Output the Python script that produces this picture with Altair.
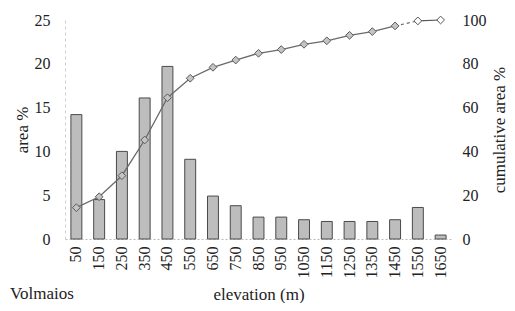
import altair as alt
import pandas as pd

elevations = [50, 150, 250, 350, 450, 550, 650, 750, 850, 950, 1050, 1150, 1250, 1350, 1450, 1550, 1650]
area_pct = [14.2, 4.5, 10.0, 16.1, 19.7, 9.1, 4.9, 3.8, 2.5, 2.5, 2.2, 2.0, 2.0, 2.0, 2.2, 3.6, 0.45]
cumulative_pct = [14.3, 19.3, 28.9, 45.2, 64.5, 73.4, 78.4, 81.7, 84.8, 86.5, 88.9, 90.5, 93.0, 94.7, 97.3, 99.6, 100.0]

df = pd.DataFrame({
    "elevation": elevations,
    "area": area_pct,
    "cumulative": cumulative_pct,
})
df["label"] = df["elevation"].astype(str)
order = [str(e) for e in elevations]

FONT = "Liberation Serif, DejaVu Serif, serif"
TXT = "#222222"

x_axis = alt.Axis(
    title="elevation (m)",
    labelAngle=-90,
    labelAlign="right",
    labelBaseline="middle",
    labelPadding=7,
    domainColor="#bbbbbb",
    domainDash=[2, 2],
    titleY=55,
    titleBaseline="middle",
)

x_enc = alt.X(
    "label:N",
    sort=order,
    scale=alt.Scale(paddingInner=0.52, paddingOuter=0.26),
    axis=x_axis,
)

bars = alt.Chart(df).mark_bar(
    fill="#bdbdbd", stroke="#4a4a4a", strokeWidth=1
).encode(
    x=x_enc,
    y=alt.Y(
        "area:Q",
        scale=alt.Scale(domain=[0, 25]),
        axis=alt.Axis(
            title="area %",
            values=[0, 5, 10, 15, 20, 25],
            labelPadding=15,
            domainColor="#d0d0d0",
            domainDash=[3, 3],
            titleX=-43,
            titleY=109.5,
        ),
    ),
)

y_right = alt.Y(
    "cumulative:Q",
    scale=alt.Scale(domain=[0, 100]),
    axis=alt.Axis(
        orient="right",
        title="cumulative area %",
        values=[0, 20, 40, 60, 80, 100],
        domain=False,
        labelPadding=10,
        titleX=47,
        titleY=109.5,
    ),
)

line_main = alt.Chart(df).transform_filter(alt.datum.elevation <= 1450).mark_line(
    color="#6a6a6a", strokeWidth=1.3
).encode(x=x_enc, y=y_right)

line_dash = alt.Chart(df).transform_filter(
    (alt.datum.elevation >= 1450) & (alt.datum.elevation <= 1550)
).mark_line(color="#6a6a6a", strokeWidth=1.2, strokeDash=[3, 3]).encode(x=x_enc, y=y_right)

line_end = alt.Chart(df).transform_filter(alt.datum.elevation >= 1550).mark_line(
    color="#555555", strokeWidth=1.2
).encode(x=x_enc, y=y_right)

pts_gray = alt.Chart(df).transform_filter(alt.datum.elevation <= 1450).mark_point(
    shape="diamond", size=60, filled=True, fill="#c4c4c4", stroke="#5a5a5a", strokeWidth=1, opacity=1
).encode(x=x_enc, y=y_right)

pts_white = alt.Chart(df).transform_filter(alt.datum.elevation >= 1550).mark_point(
    shape="diamond", size=60, filled=True, fill="white", stroke="#555555", strokeWidth=1, opacity=1
).encode(x=x_enc, y=y_right)

right_layer = alt.layer(line_main, line_dash, line_end, pts_gray, pts_white)

note = alt.Chart(pd.DataFrame({"t": ["Volmaios"]})).mark_text(
    font=FONT, fontSize=17, color=TXT, align="left", baseline="middle"
).encode(text="t:N", x=alt.value(-55), y=alt.value(274))

chart = alt.layer(bars, right_layer, note).resolve_scale(y="independent").properties(
    width=387,
    height=219,
    autosize=alt.AutoSizeParams(type="none"),
    padding={"left": 57, "top": 12, "right": 55, "bottom": 64},
).configure_view(
    stroke=None
).configure_axis(
    labelFont=FONT,
    labelFontSize=16,
    labelColor=TXT,
    titleFont=FONT,
    titleFontSize=17,
    titleFontWeight="normal",
    titleColor=TXT,
    ticks=False,
    grid=False,
).configure_axisY(
    titleAngle=270,
    titleAlign="center",
    titleBaseline="middle",
)

chart.save("out.html", embed_options={"renderer": "svg", "actions": False})
